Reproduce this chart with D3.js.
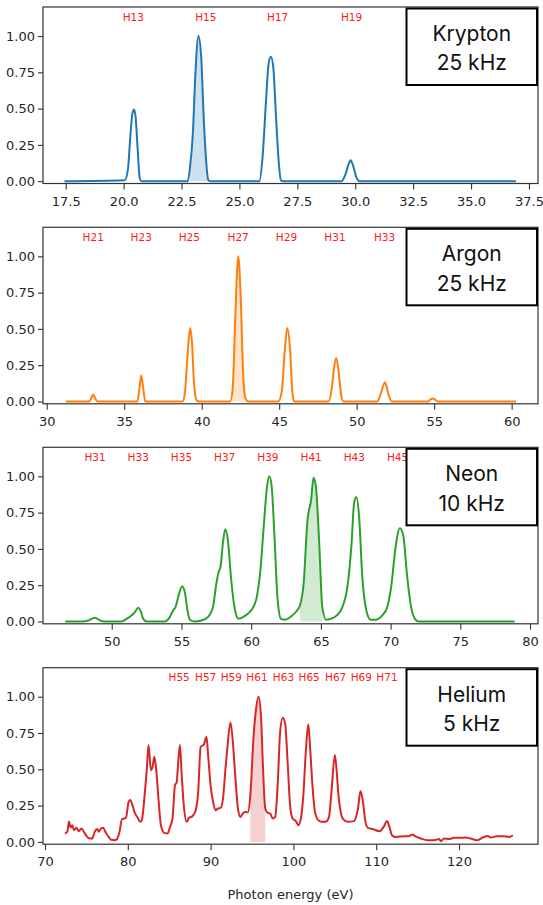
<!DOCTYPE html>
<html>
<head>
<meta charset="utf-8">
<script src="https://cdn.jsdelivr.net/npm/d3@7"></script>
<style>
  html, body { margin: 0; padding: 0; background: #fff; }
  svg { display: block; }
</style>
</head>
<body>
<div id="chart"></div>
<script>
// ---- Data (photon energy in eV, normalised intensity) ----
const kryptonEnergy = [17.45, 20.05, 20.19, 20.3, 20.38, 20.45, 20.52, 20.6, 20.7, 20.77,
  22.77, 22.87, 22.99, 23.1, 23.23, 23.35, 23.45, 23.56, 23.66, 23.74,
  25.86, 26.0, 26.15, 26.26, 26.36, 26.46, 26.58, 26.69, 26.79, 26.89,
  29.41, 29.59, 29.7, 29.8, 29.9, 30.04, 30.19, 36.94];
const kryptonIntensity = [0, 0.007, 0.087, 0.33, 0.467, 0.494, 0.44, 0.237, 0.018, 0,
  0, 0.1, 0.33, 0.743, 1.0, 0.857, 0.467, 0.145, 0.007, 0,
  0, 0.168, 0.559, 0.81, 0.857, 0.788, 0.443, 0.145, 0.007, 0,
  0, 0.053, 0.11, 0.145, 0.11, 0.03, 0, 0];

const argonEnergy = [31.23, 32.75, 32.9, 33.0, 33.14, 33.27,
  35.85, 35.98, 36.1, 36.23, 36.36,
  38.77, 38.92, 39.07, 39.25, 39.37, 39.5, 39.68, 39.8,
  41.83, 42.0, 42.17, 42.36, 42.52, 42.68, 42.84, 43.0,
  44.94, 45.16, 45.37, 45.52, 45.7, 45.85, 45.97,
  48.17, 48.39, 48.53, 48.68, 48.84, 48.99, 49.14,
  51.33, 51.55, 51.83, 52.04, 52.27,
  54.62, 54.77, 54.94, 55.12, 55.26, 60.28];
const argonIntensity = [0, 0, 0.03, 0.048, 0.018, 0,
  0, 0.087, 0.179, 0.087, 0,
  0, 0.064, 0.294, 0.506, 0.409, 0.133, 0.007, 0,
  0, 0.087, 0.593, 1.0, 0.708, 0.179, 0.018, 0,
  0, 0.064, 0.363, 0.506, 0.36, 0.064, 0,
  0, 0.087, 0.225, 0.30, 0.202, 0.053, 0,
  0, 0.053, 0.133, 0.053, 0,
  0, 0.014, 0.021, 0.007, 0, 0];

const neonEnergy = [46.66, 47.86, 48.33, 48.8, 49.16, 49.5,
  50.7, 51.07, 51.47, 51.66, 51.9, 52.1, 52.26, 52.5,
  53.8, 54.16, 54.4, 54.57, 54.8, 55.04, 55.24, 55.43, 55.6, 55.95,
  56.43, 56.9, 57.26, 57.5, 57.66, 57.8, 57.97, 58.14, 58.33, 58.57, 58.8, 59.1,
  59.4, 59.76, 60.16, 60.4, 60.66, 60.9, 61.14, 61.3, 61.47, 61.66, 61.9, 62.14,
  62.43, 62.86, 63.26, 63.5, 63.76, 64.04, 64.3, 64.47, 64.64, 64.88, 65.1, 65.36,
  65.7, 66.14, 66.54, 66.9, 67.2, 67.38, 67.54, 67.74, 67.97, 68.26, 68.57,
  68.93, 69.4, 69.76, 70.04, 70.36, 70.66, 70.9, 71.19, 71.47, 71.79, 72.0, 78.9];
const neonIntensity = [0, 0, 0.007, 0.025, 0.007, 0,
  0, 0.018, 0.046, 0.065, 0.095, 0.065, 0.018, 0,
  0, 0.03, 0.076, 0.099, 0.18, 0.243, 0.203, 0.076, 0.012, 0,
  0.007, 0.03, 0.099, 0.26, 0.34, 0.376, 0.538, 0.635, 0.56, 0.284, 0.1, 0.018,
  0.03, 0.053, 0.1, 0.168, 0.353, 0.654, 0.93, 1.0, 0.93, 0.607, 0.145, 0.018,
  0.012, 0.035, 0.072, 0.11, 0.26, 0.7, 0.84, 0.99, 0.93, 0.538, 0.1, 0.012,
  0.018, 0.042, 0.099, 0.238, 0.538, 0.815, 0.857, 0.722, 0.307, 0.076, 0.012,
  0.012, 0.042, 0.099, 0.238, 0.515, 0.642, 0.596, 0.307, 0.099, 0.012, 0, 0];

const heliumEnergy = [72.4, 72.7, 72.9, 73.1, 73.3, 73.5, 73.8, 74.1, 74.4, 74.7,
  75.0, 75.4, 75.7, 76.0, 76.3, 76.5, 76.7, 77.0, 77.4, 77.7,
  78.0, 78.4, 78.7, 79.0, 79.3, 79.6, 79.8, 80.1, 80.3, 80.5,
  80.8, 81.2, 81.5, 81.7, 82.0, 82.3, 82.5, 82.8, 83.0, 83.2,
  83.4, 83.7, 84.0, 84.4, 84.8, 85.1, 85.4, 85.7, 85.9, 86.1,
  86.3, 86.5, 86.8, 87.1, 87.4, 87.8, 88.2, 88.5, 88.8, 89.2,
  89.5, 89.7, 90.0, 90.3, 90.6, 90.9, 91.2, 91.5, 91.8, 92.0,
  92.4, 92.7, 93.0, 93.3, 93.6, 93.9, 94.2, 94.5, 94.8, 95.2,
  95.5, 95.8, 96.1, 96.3, 96.6, 96.9, 97.2, 97.5, 97.8, 98.1,
  98.4, 98.7, 99.0, 99.3, 99.6, 99.9, 100.3, 100.6, 100.9, 101.2,
  101.5, 101.8, 102.0, 102.3, 102.6, 103.0, 103.4, 103.9, 104.3, 104.6,
  105.0, 105.2, 105.4, 105.7, 106.0, 106.6, 107.3, 107.8, 108.1, 108.4,
  108.7, 109.0, 109.6, 110.4, 110.9, 111.3, 111.6, 111.9, 112.3, 113.4,
  114.0, 114.4, 114.7, 115.4, 116.2, 117.0, 117.6, 117.8, 118.2, 118.8,
  119.4, 120.0, 120.8, 121.4, 122.2, 123.0, 123.5, 123.8, 124.6, 125.4,
  126.1, 126.5];
const heliumIntensity = [0.058, 0.07, 0.14, 0.10, 0.115, 0.08, 0.097, 0.074, 0.092, 0.069,
  0.041, 0.023, 0.023, 0.069, 0.088, 0.069, 0.088, 0.097, 0.058, 0.034,
  0.014, 0.012, 0.019, 0.069, 0.157, 0.161, 0.17, 0.276, 0.288, 0.265,
  0.207, 0.166, 0.138, 0.15, 0.30, 0.506, 0.667, 0.494, 0.517, 0.586,
  0.517, 0.30, 0.115, 0.062, 0.058, 0.103, 0.161, 0.39, 0.41, 0.56,
  0.667, 0.47, 0.23, 0.138, 0.166, 0.177, 0.218, 0.345, 0.655, 0.672,
  0.724, 0.598, 0.39, 0.276, 0.218, 0.23, 0.234, 0.30, 0.506, 0.632,
  0.823, 0.679, 0.437, 0.23, 0.172, 0.196, 0.207, 0.203, 0.322, 0.736,
  0.92, 1.0, 0.851, 0.552, 0.23, 0.2, 0.196, 0.161, 0.172, 0.39,
  0.759, 0.855, 0.816, 0.552, 0.253, 0.161, 0.143, 0.115, 0.161, 0.322,
  0.621, 0.81, 0.667, 0.39, 0.207, 0.15, 0.138, 0.138, 0.172, 0.345,
  0.598, 0.506, 0.35, 0.21, 0.157, 0.138, 0.143, 0.23, 0.35, 0.276,
  0.138, 0.097, 0.088, 0.074, 0.103, 0.143, 0.103, 0.046, 0.034, 0.039,
  0.041, 0.051, 0.039, 0.023, 0.012, 0.012, 0.019, 0.005, 0.023, 0.019,
  0.028, 0.028, 0.03, 0.023, 0.012, 0.034, 0.041, 0.03, 0.039, 0.039,
  0.034, 0.046];

// Harmonic order labels and where they sit on the energy axis
const kryptonOrders = ["H13", "H15", "H17", "H19"];
const kryptonLabelEnergy = [20.42, 23.55, 26.65, 29.84];
const argonOrders = ["H21", "H23", "H25", "H27", "H29", "H31", "H33"];
const argonLabelEnergy = [33.0, 36.1, 39.2, 42.35, 45.47, 48.6, 51.8];
const neonOrders = ["H31", "H33", "H35", "H37", "H39", "H41", "H43", "H45"];
const neonLabelEnergy = [48.8, 51.9, 55.0, 58.1, 61.2, 64.3, 67.4, 70.5];
const heliumOrders = ["H55", "H57", "H59", "H61", "H63", "H65", "H67", "H69", "H71"];
const heliumLabelEnergy = [86.2, 89.4, 92.5, 95.6, 98.8, 101.9, 105.1, 108.2, 111.3];

// Shaded harmonic in each panel (energy range)
const kryptonShade = [22.85, 23.7];
const argonShade = [41.9, 42.9];
const neonShade = [63.45, 65.15];
const heliumShade = [94.75, 96.65];

// Axis ticks
const kryptonTicks = [17.5, 20, 22.5, 25, 27.5, 30, 32.5, 35, 37.5];
const argonTicks = [30, 35, 40, 45, 50, 55, 60];
const neonTicks = [50, 55, 60, 65, 70, 75, 80];
const heliumTicks = [70, 80, 90, 100, 110, 120];
const intensityTicks = [0, 0.25, 0.5, 0.75, 1.0];

// ---- Panel set-up ----
const panels = [
  { gas: "Krypton", rate: "25 kHz", energy: kryptonEnergy, intensity: kryptonIntensity, color: "#1f77b4",
    xDomain: [16.52, 37.89], ticks: kryptonTicks, fmt: ".1f", orders: kryptonOrders, labelE: kryptonLabelEnergy,
    shade: kryptonShade, top: 7 },
  { gas: "Argon", rate: "25 kHz", energy: argonEnergy, intensity: argonIntensity, color: "#ff7f0e",
    xDomain: [29.76, 61.7], ticks: argonTicks, fmt: "d", orders: argonOrders, labelE: argonLabelEnergy,
    shade: argonShade, top: 227.3 },
  { gas: "Neon", rate: "10 kHz", energy: neonEnergy, intensity: neonIntensity, color: "#2ca02c",
    xDomain: [45.07, 80.57], ticks: neonTicks, fmt: "d", orders: neonOrders, labelE: neonLabelEnergy,
    shade: neonShade, top: 447.3 },
  { gas: "Helium", rate: "5 kHz", energy: heliumEnergy, intensity: heliumIntensity, color: "#d62728",
    xDomain: [69.76, 129.54], ticks: heliumTicks, fmt: "d", orders: heliumOrders, labelE: heliumLabelEnergy,
    shade: heliumShade, top: 667.7 }
];

const W = 543, H = 905;
const left = 43, right = 538;
const panelHeight = 176.5;
const tickFont = "DejaVu Sans";

const svg = d3.select("#chart")
  .append("svg")
  .attr("width", W)
  .attr("height", H)
  .style("background", "#fff");

panels.forEach((p) => {
  const x = d3.scaleLinear().domain(p.xDomain).range([left, right]);
  const y = d3.scaleLinear().domain([-0.016, 1.2]).range([p.top + panelHeight, p.top]);
  const pts = p.energy.map((e, i) => ({ e: e, v: p.intensity[i] }));

  const g = svg.append("g");

  // shaded harmonic
  const shadePts = pts.filter((d) => d.e >= p.shade[0] && d.e <= p.shade[1]);
  g.append("path")
    .datum(shadePts)
    .attr("d", d3.area().x((d) => x(d.e)).y0(y(0)).y1((d) => y(d.v)).curve(d3.curveMonotoneX))
    .attr("fill", p.color)
    .attr("fill-opacity", 0.22);

  // spectrum line
  g.append("path")
    .datum(pts)
    .attr("d", d3.line().x((d) => x(d.e)).y((d) => y(d.v)).curve(d3.curveMonotoneX))
    .attr("fill", "none")
    .attr("stroke", p.color)
    .attr("stroke-width", 2)
    .attr("stroke-linejoin", "round");

  // axes
  const xAxis = g.append("g")
    .attr("transform", `translate(0,${p.top + panelHeight})`)
    .call(d3.axisBottom(x).tickValues(p.ticks).tickFormat(d3.format(p.fmt)).tickSize(6).tickPadding(7));
  const yAxis = g.append("g")
    .attr("transform", `translate(${left},0)`)
    .call(d3.axisLeft(y).tickValues(intensityTicks).tickFormat(d3.format(".2f")).tickSize(5).tickPadding(3));
  [xAxis, yAxis].forEach((a) => {
    a.select(".domain").remove();
    a.selectAll("line").attr("stroke", "#333").attr("stroke-width", 1.1);
    a.selectAll("text").attr("fill", "#262626").style("font-family", tickFont).style("font-size", "13px");
  });

  // frame
  g.append("rect")
    .attr("x", left)
    .attr("y", p.top)
    .attr("width", right - left)
    .attr("height", panelHeight)
    .attr("fill", "none")
    .attr("stroke", "#333")
    .attr("stroke-width", 1.2);

  // harmonic labels
  g.selectAll(".hl")
    .data(p.orders)
    .enter()
    .append("text")
    .attr("x", (d, i) => x(p.labelE[i]))
    .attr("y", p.top + 10)
    .attr("dy", "0.36em")
    .attr("text-anchor", "middle")
    .style("font-family", tickFont)
    .style("font-size", "10.5px")
    .attr("fill", "#ff1a1a")
    .text((d) => d);

  // gas / repetition-rate box
  const bx = 406.5, bw = 130.5, by = p.top + 1.5, bh = 76.5;
  g.append("rect")
    .attr("x", bx).attr("y", by)
    .attr("width", bw).attr("height", bh)
    .attr("fill", "#fff")
    .attr("stroke", "#000")
    .attr("stroke-width", 2);
  [p.gas, p.rate].forEach((t, i) => {
    g.append("text")
      .attr("x", bx + bw / 2)
      .attr("y", by + 25 + i * 29.5)
      .attr("dy", "0.35em")
      .attr("text-anchor", "middle")
      .style("font-family", "Inter, 'Noto Sans', sans-serif")
      .style("font-size", "21px")
      .attr("fill", "#111")
      .text(t);
  });
});

// x-axis title
svg.append("text")
  .attr("x", (left + right) / 2)
  .attr("y", 894)
  .attr("dy", "0.35em")
  .attr("text-anchor", "middle")
  .style("font-family", tickFont)
  .style("font-size", "13px")
  .attr("fill", "#262626")
  .text("Photon energy (eV)");
</script>
</body>
</html>
